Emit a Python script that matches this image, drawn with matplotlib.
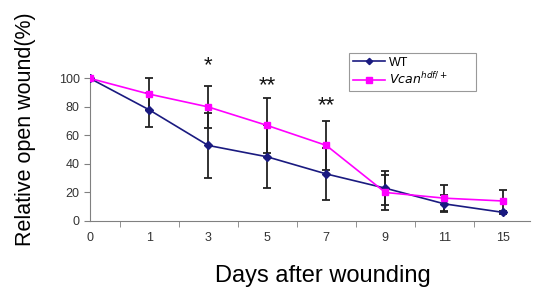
import matplotlib.pyplot as plt
import numpy as np

plt.rcParams["font.family"] = ["Liberation Sans", "DejaVu Sans"]

# days after wounding (plotted as evenly spaced categories)
days = ["0", "1", "3", "5", "7", "9", "11", "15"]
wt = [100, 78, 53, 45, 33, 23, 12, 6]
wt_err = [0, 12, 23, 22, 18, 12, 6, 1]
vcan = [100, 89, 80, 67, 53, 20, 16, 14]
vcan_err = [0, 11, 15, 19, 17, 12, 9, 8]
stars = {2: ("*", 109), 3: ("**", 95), 4: ("**", 81)}

fig = plt.figure(figsize=(5.57, 2.90), dpi=100)
ax = fig.add_axes([0.1616, 0.238, 0.79, 0.59])

x = np.arange(len(days))
ax.errorbar(x, wt, yerr=wt_err, fmt="none", ecolor="#222222", elinewidth=1.3,
            capsize=3, capthick=1.3, zorder=2)
ax.errorbar(x, vcan, yerr=vcan_err, fmt="none", ecolor="#222222", elinewidth=1.3,
            capsize=3, capthick=1.3, zorder=2)
ax.plot(x, wt, color="#1a1a80", marker="D", markersize=4, lw=1.2, label="WT", zorder=3)
ax.plot(x, vcan, color="#ff00ff", marker="s", markersize=5, lw=1.2,
        label=r"$\mathit{Vcan}^{hdf/+}$", zorder=3)

for i, (s, yv) in stars.items():
    ax.text(i, yv, s, ha="center", va="center", fontsize=16, color="#111111")

ax.set_xlim(0, 7.45)
ax.set_ylim(0, 120)
ax.set_xticks(x)
ax.set_xticklabels(days)
ax.set_xticks(np.arange(0.5, 7.0, 1.0), minor=True)
ax.tick_params(axis="x", which="major", length=0, pad=8, labelsize=9, labelcolor="#333333")
ax.tick_params(axis="x", which="minor", length=4, color="#808080", direction="out")
ax.set_yticks([0, 20, 40, 60, 80, 100])
ax.tick_params(axis="y", length=4, color="#808080", labelsize=9, labelcolor="#333333")

for side in ["top", "right"]:
    ax.spines[side].set_visible(False)
ax.spines["left"].set_bounds(0, 100)
ax.spines["left"].set_color("#808080")
ax.spines["bottom"].set_color("#808080")

fig.text(26 / 557, 1 - 129 / 290, "Relative open wound(%)", rotation=90,
         ha="center", va="center", fontsize=15.5)
fig.text(323 / 557, 1 - 276 / 290, "Days after wounding",
         ha="center", va="center", fontsize=17)

leg = ax.legend(loc="upper left", bbox_to_anchor=(0.589, 0.80, 0.289, 0.182),
                mode="expand", borderaxespad=0, fontsize=9,
                frameon=True, fancybox=False, edgecolor="#808080",
                handlelength=2.6, handletextpad=0.3, borderpad=0.3,
                labelspacing=0.2, markerscale=0.8)
leg.get_frame().set_linewidth(0.8)

fig.savefig("out.png", dpi=100)
